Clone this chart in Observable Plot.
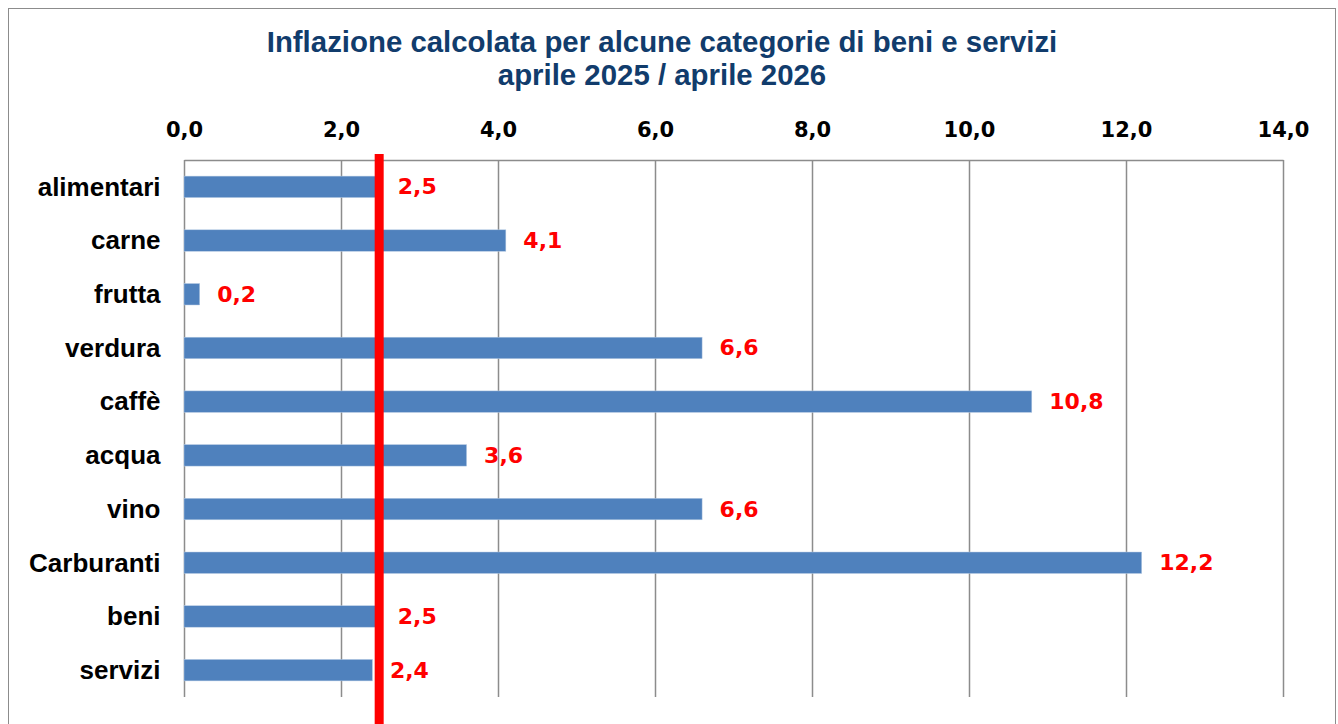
<!DOCTYPE html>
<html>
<head>
<meta charset="utf-8">
<script src="https://cdn.jsdelivr.net/npm/d3@7"></script>
<script src="https://cdn.jsdelivr.net/npm/@observablehq/plot@0.6"></script>
<style>
  html, body { margin: 0; padding: 0; background: #fff; }
  #wrap { position: relative; width: 1338px; height: 724px; overflow: hidden; }
  #border { position: absolute; left: 8px; top: 8px; width: 1328px; height: 800px; border: 1.5px solid #8c8c8c; box-sizing: border-box; }
  #title { position: relative; height: 100px; box-sizing: border-box; padding-top: 25px; text-align: center; padding-right: 14px;
           font-family: "Liberation Sans", Arial, sans-serif; font-weight: bold; font-size: 29.4px; line-height: 33px; color: #113c6c; }
  #chart { position: relative; height: 624px; }
  #chart svg { display: block; }
</style>
</head>
<body>
<div id="wrap">
  <div id="border"></div>
  <div id="title">Inflazione calcolata per alcune categorie di beni e servizi<br>aprile 2025 / aprile 2026</div>
  <div id="chart"></div>
</div>
<script>
const categorie = ["alimentari", "carne", "frutta", "verdura", "caffè", "acqua", "vino", "Carburanti", "beni", "servizi"];
const valori = [2.5, 4.1, 0.2, 6.6, 10.8, 3.6, 6.6, 12.2, 2.5, 2.4];
const tickValori = [0, 2, 4, 6, 8, 10, 12, 14];
const riferimento = [2.48];

const data = categorie.map((c, i) => ({categoria: c, valore: valori[i]}));
const fmt = v => v.toFixed(1).replace(".", ",");

const plot = Plot.plot({
  width: 1338,
  height: 624,
  marginTop: 60,
  marginBottom: 27,
  marginLeft: 184,
  marginRight: 55,
  x: {domain: [0, 14], ticks: tickValori, tickFormat: fmt, axis: null},
  y: {domain: categorie, paddingInner: 0.6, paddingOuter: 0.3, round: false, axis: null},
  marks: [
    Plot.frame({stroke: "#8c8c8c", strokeWidth: 1.5, strokeDasharray: "1099 100000"}),
    Plot.ruleX(tickValori, {stroke: "#8c8c8c", strokeWidth: 1.5}),
    Plot.axisX(tickValori, {anchor: "top", tickSize: 0, tickPadding: 24, tickFormat: fmt, fontSize: 21, fontWeight: "bold", fontFamily: "DejaVu Sans", fill: "#000", label: null}),
    Plot.axisY({anchor: "left", tickSize: 0, tickPadding: 24, fontSize: 26, fontWeight: "bold", fontFamily: "Liberation Sans", fill: "#000", label: null}),
    Plot.barX(data, {x: "valore", y: "categoria", fill: "#4f81bd", stroke: "#b8cce4", strokeWidth: 0.5}),
    Plot.ruleX(riferimento, {stroke: "#ff0000", strokeWidth: 9, insetTop: -6, insetBottom: -30}),
    Plot.text(data, {x: "valore", y: "categoria", text: d => fmt(d.valore), dx: 17, textAnchor: "start", fill: "#ff0000", fontSize: 22, fontWeight: "bold", fontFamily: "DejaVu Sans"})
  ],
  style: {background: "transparent", overflow: "visible"}
});
document.getElementById("chart").appendChild(plot);
</script>
</body>
</html>
